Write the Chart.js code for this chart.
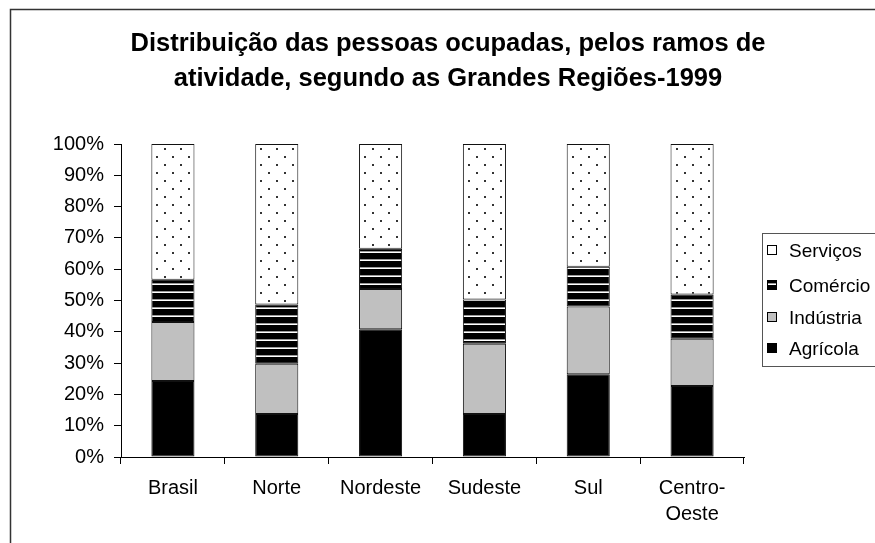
<!DOCTYPE html>
<html>
<head>
<meta charset="utf-8">
<script src="https://cdn.jsdelivr.net/npm/chart.js@4.4.1/dist/chart.umd.min.js"></script>
<style>
  body { margin: 0; background: #fff; }
  #wrap { width: 875px; height: 543px; position: relative; }
</style>
</head>
<body>
<div id="wrap"><canvas id="chart"></canvas></div>
<script>
const titleLines = ["Distribuição das pessoas ocupadas, pelos ramos de", "atividade, segundo as Grandes Regiões-1999"];
const regions = ["Brasil", "Norte", "Nordeste", "Sudeste", "Sul", ["Centro-", "Oeste"]];
const seriesNames = ["Agrícola", "Indústria", "Comércio", "Serviços"];
const agricola = [24.3, 13.7, 40.8, 13.7, 26.4, 22.7];
const industria = [18.8, 16.1, 12.9, 22.5, 21.7, 15.1];
const comercio = [13.5, 18.9, 12.8, 14.1, 12.7, 14.1];
const servicos = [43.4, 51.3, 33.5, 49.7, 39.2, 48.1];

const FONT = "'Liberation Sans', Arial, sans-serif";

// patterns like the old excel fills
function stripes() {
    const c = document.createElement("canvas");
    c.width = 8; c.height = 8;
    const g = c.getContext("2d");
    g.fillStyle = "#000";
    g.fillRect(0, 0, 8, 8);
    g.fillStyle = "#9a9a9a";
    g.fillRect(0, 3, 8, 1);
    g.fillStyle = "#fff";
    g.fillRect(0, 4, 8, 1);
    return g.createPattern(c, "repeat");
}
function dots() {
    const c = document.createElement("canvas");
    c.width = 16; c.height = 16;
    const g = c.getContext("2d");
    g.fillStyle = "#fff";
    g.fillRect(0, 0, 16, 16);
    g.fillStyle = "#333";
    g.fillRect(4, 4, 2, 2);
    g.fillRect(12, 12, 2, 2);
    return g.createPattern(c, "repeat");
}

const fills = ["#000000", "#c0c0c0", stripes(), dots()];
const values = [agricola, industria, comercio, servicos];

const frameAndTitle = {
    id: "frameAndTitle",
    beforeDraw(chart) {
        const ctx = chart.ctx;
        ctx.save();
        ctx.strokeStyle = "#333";
        ctx.lineWidth = 1.5;
        ctx.strokeRect(10.5, 9.5, 900, 600);
        ctx.fillStyle = "#000";
        ctx.font = "bold 25.5px " + FONT;
        ctx.textAlign = "center";
        ctx.textBaseline = "alphabetic";
        ctx.fillText(titleLines[0], 448, 51);
        ctx.fillText(titleLines[1], 448, 86);
        ctx.restore();
    },
    afterDraw(chart) {
        // legend box, Serviços on top
        const ctx = chart.ctx;
        ctx.save();
        ctx.strokeStyle = "#555";
        ctx.lineWidth = 1;
        ctx.fillStyle = "#fff";
        ctx.fillRect(762, 233, 200, 133);
        ctx.strokeRect(762.5, 233.5, 200, 133);
        ctx.font = "19px " + FONT;
        ctx.textBaseline = "middle";
        const rows = [250.5, 285.5, 318, 348.5];
        for (let i = 0; i < 4; i++) {
            const k = 3 - i;
            const y = Math.round(rows[i]);
            ctx.fillStyle = fills[k];
            ctx.fillRect(768, y - 5, 9, 9);
            ctx.strokeStyle = "#000";
            ctx.strokeRect(767.5, y - 5.5, 9, 9);
            ctx.fillStyle = "#000";
            ctx.fillText(seriesNames[k], 789, y + 1);
        }
        ctx.restore();
    }
};

new Chart(document.getElementById("chart"), {
    type: "bar",
    data: {
        labels: regions,
        datasets: seriesNames.map((name, i) => ({
            label: name,
            data: values[i],
            backgroundColor: fills[i],
            borderColor: "#111",
            borderWidth: 1,
            borderSkipped: false,
            categoryPercentage: 1,
            barPercentage: 0.415
        }))
    },
    options: {
        responsive: true,
        maintainAspectRatio: false,
        animation: false,
        layout: { padding: { left: 0, top: 144, right: 131, bottom: 0 } },
        scales: {
            x: {
                stacked: true,
                grid: { drawOnChartArea: false, drawTicks: true, tickLength: 7, color: "#000", offset: true },
                border: { display: true, color: "#000", width: 1 },
                ticks: { color: "#000", padding: 11, maxRotation: 0, font: { family: FONT, size: 20, lineHeight: 1.3 } },
                afterFit: (s) => { s.height = 86; }
            },
            y: {
                stacked: true,
                min: 0,
                max: 100,
                grid: { drawOnChartArea: false, drawTicks: true, tickLength: 7, color: "#000" },
                border: { display: true, color: "#000", width: 1 },
                ticks: {
                    stepSize: 10,
                    color: "#000",
                    padding: 10,
                    font: { family: FONT, size: 20 },
                    callback: (v) => v + "%"
                },
                afterFit: (s) => { s.width = 121; }
            }
        },
        plugins: {
            legend: { display: false },
            title: { display: false },
            tooltip: { enabled: false }
        }
    },
    plugins: [frameAndTitle]
});
</script>
</body>
</html>
